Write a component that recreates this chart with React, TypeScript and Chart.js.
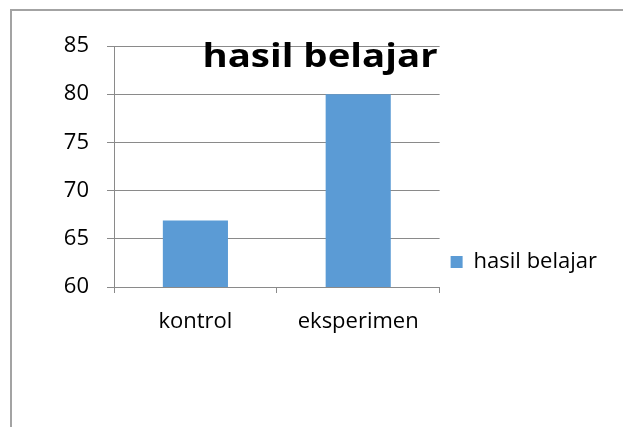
import React, { useEffect, useRef } from "react";
import { Chart, registerables } from "chart.js";

Chart.register(...registerables);

const categories = ["kontrol", "eksperimen"];
const seriesName = "hasil belajar";
const hasilBelajar = [66.9, 80];
const yMin = 60;
const yMax = 85;
const yStep = 5;
const titleText = "hasil belajar";

const GRID = "#8a8a8a";
const BAR = "#5B9BD5";
const FONT = "'Open Sans', sans-serif";

const titlePlugin = {
  id: "overlayTitle",
  afterDraw(chart: any) {
    const ctx = chart.ctx;
    ctx.save();
    ctx.font = "bold 32px 'Open Sans', sans-serif";
    ctx.fillStyle = "#000";
    ctx.textAlign = "center";
    ctx.textBaseline = "alphabetic";
    ctx.translate(320, 67);
    ctx.scale(1.2, 1);
    ctx.fillText(titleText, 0, 0);
    ctx.restore();
  },
};

export default function App() {
  const ref = useRef<HTMLCanvasElement | null>(null);
  useEffect(() => {
    let chart: any = null;
    let cancelled = false;
    const build = () => {
      if (cancelled || !ref.current) return;
      chart = new Chart(ref.current, {
        type: "bar",
        data: {
          labels: categories,
          datasets: [
            {
              label: seriesName,
              data: hasilBelajar,
              backgroundColor: BAR,
              borderWidth: 0,
              categoryPercentage: 1,
              barPercentage: 0.4,
            },
          ],
        },
        options: {
          responsive: false,
          animation: false,
          devicePixelRatio: 1,
          layout: { padding: { left: 0, top: 46, right: 16, bottom: 0 } },
          plugins: {
            title: { display: false },
            tooltip: { enabled: false },
            legend: {
              display: true,
              position: "right",
              maxWidth: 400,
              labels: {
                boxWidth: 12,
                boxHeight: 12,
                padding: 11,
                color: "#000",
                font: { family: FONT, size: 22 },
              },
            },
          },
          scales: {
            x: {
              offset: true,
              grid: {
                offset: true,
                drawOnChartArea: false,
                tickLength: 6,
                color: GRID,
              },
              border: { color: GRID, width: 1 },
              ticks: {
                color: "#000",
                padding: 16,
                font: { family: FONT, size: 22 },
              },
              afterFit(scale: any) {
                scale.height = 191;
              },
            },
            y: {
              min: yMin,
              max: yMax,
              grid: { color: GRID, tickLength: 7 },
              border: { color: GRID, width: 1 },
              ticks: {
                stepSize: yStep,
                color: "#000",
                padding: 18,
                font: { family: FONT, size: 22 },
              },
              afterFit(scale: any) {
                scale.width = 114;
              },
            },
          },
        },
        plugins: [titlePlugin],
      });
    };
    const fonts: any = (document as any).fonts;
    if (fonts && fonts.load) {
      Promise.all([
        fonts.load("22px 'Open Sans'"),
        fonts.load("bold 32px 'Open Sans'"),
      ])
        .catch(() => null)
        .then(() => build());
    } else {
      build();
    }
    return () => {
      cancelled = true;
      if (chart) chart.destroy();
    };
  }, []);

  return (
    <div
      style={{
        position: "fixed",
        left: 0,
        top: 0,
        width: 623,
        height: 427,
        overflow: "hidden",
        background: "#fff",
        fontFamily: FONT,
      }}
    >
      <div
        style={{
          position: "absolute",
          left: 10,
          top: 9,
          width: 700,
          height: 500,
          borderTop: "2px solid #a3a3a3",
          borderLeft: "2px solid #a3a3a3",
        }}
      />
      <canvas
        ref={ref}
        width={623}
        height={478}
        style={{ position: "absolute", left: 0, top: 0, width: 623, height: 478 }}
      />
    </div>
  );
}
